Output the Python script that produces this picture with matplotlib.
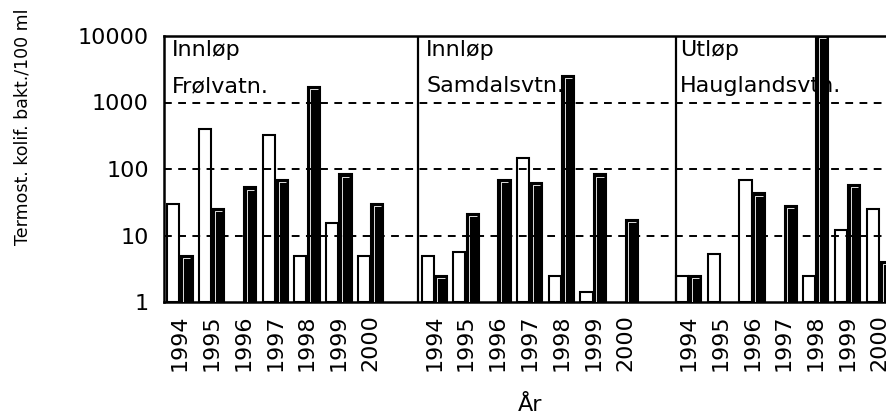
import numpy as np
import matplotlib.pyplot as plt
from matplotlib.ticker import FixedLocator, NullLocator
from matplotlib.transforms import offset_copy, blended_transform_factory

plt.rcParams["font.family"] = ["DejaVu Sans"]

years = ["1994", "1995", "1996", "1997", "1998", "1999", "2000"]
site_kind = ["Innløp", "Innløp", "Utløp"]
site_name = ["Frølvatn.", "Samdalsvtn.", "Hauglandsvtn."]

nan = np.nan
# two bars per year and site: open and filled
open_vals = [
    [30, 400, nan, 320, 5, 15.6, 5],
    [5, 5.7, nan, 145, 2.5, 1.4, nan],
    [2.5, 5.2, 68, nan, 2.5, 12, 25],
]
filled_vals = [
    [5, 25, 53, 68, 1700, 83, 30],
    [2.5, 21, 68, 62, 2500, 83, 17],
    [2.5, nan, 43, 28, 10000, 57, 4],
]

yticks = [1, 10, 100, 1000, 10000]
grid_vals = [10, 100, 1000]

W, H = 887, 412
fig = plt.figure(figsize=(W / 100, H / 100), dpi=100)
ax = fig.add_axes([164 / W, (H - 302) / H, 763 / W, 266 / H])

n_years = len(years)
panel_w = n_years + 1
bw = 0.38
off = 0.21

ax.set_yscale("log")
ax.set_ylim(1, 10000)
ax.set_xlim(0, panel_w * 3)

bevel = offset_copy(ax.transData, fig=fig, x=2.6, y=-2.2, units="dots")
tick_pos, tick_lab = [], []
for p in range(3):
    xs = p * panel_w + 0.5 + np.arange(n_years)
    tick_pos.extend(xs)
    tick_lab.extend(years)
    ov = np.array(open_vals[p], dtype=float)
    fv = np.array(filled_vals[p], dtype=float)
    m = ~np.isnan(ov)
    ax.bar(xs[m] - off, ov[m] - 1, bottom=1, width=bw, color="white",
           edgecolor="black", linewidth=1.5, zorder=2)
    m = ~np.isnan(fv)
    ax.bar(xs[m] + off, fv[m] - 1, bottom=1, width=bw, color="black",
           edgecolor="black", linewidth=1.5, zorder=2)
    # light inner edge on the filled bars
    for x, h in zip(xs[m] + off, fv[m]):
        xl = x - bw / 2
        xr = x + bw / 2 - 0.15
        ax.plot([xl, xl, xr], [1.05, h, h], color="white", lw=0.6,
                transform=bevel, zorder=3, solid_capstyle="butt",
                clip_on=True)

    tr = blended_transform_factory(ax.transData, ax.transAxes)
    x0 = p * panel_w + (0.25 if p < 2 else 0.22)
    ax.text(x0, (302 - 50) / 266, site_kind[p], transform=tr, fontsize=16,
            ha="left", va="center", zorder=1)
    ax.text(x0, (302 - 86) / 266, site_name[p], transform=tr, fontsize=16,
            ha="left", va="center", zorder=1)

for v in grid_vals:
    ax.axhline(v, color="black", lw=1.4, ls=(0, (4, 3.3)), zorder=4)
ax.axvline(panel_w, color="black", lw=1.6, zorder=4)
ax.axvline(2 * panel_w + 0.12, color="black", lw=1.6, zorder=4)

ax.yaxis.set_major_locator(FixedLocator(yticks))
ax.yaxis.set_minor_locator(NullLocator())
ax.set_yticklabels([str(t) for t in yticks])
ax.set_xticks(tick_pos)
ax.set_xticklabels(tick_lab, rotation=90)
ax.tick_params(axis="y", length=0, pad=11, labelsize=16)
ax.tick_params(axis="x", length=0, pad=9, labelsize=16)
for s in ax.spines.values():
    s.set_linewidth(1.8)

fig.text(23 / W, 1 - 245 / H, "Termost. kolif. bakt./100 ml", rotation=90,
         ha="center", va="bottom", fontsize=12.5)
fig.text(530 / W, 1 - 411 / H, "År", ha="center", va="baseline", fontsize=16)

fig.savefig("out.png", dpi=100, facecolor="white")
